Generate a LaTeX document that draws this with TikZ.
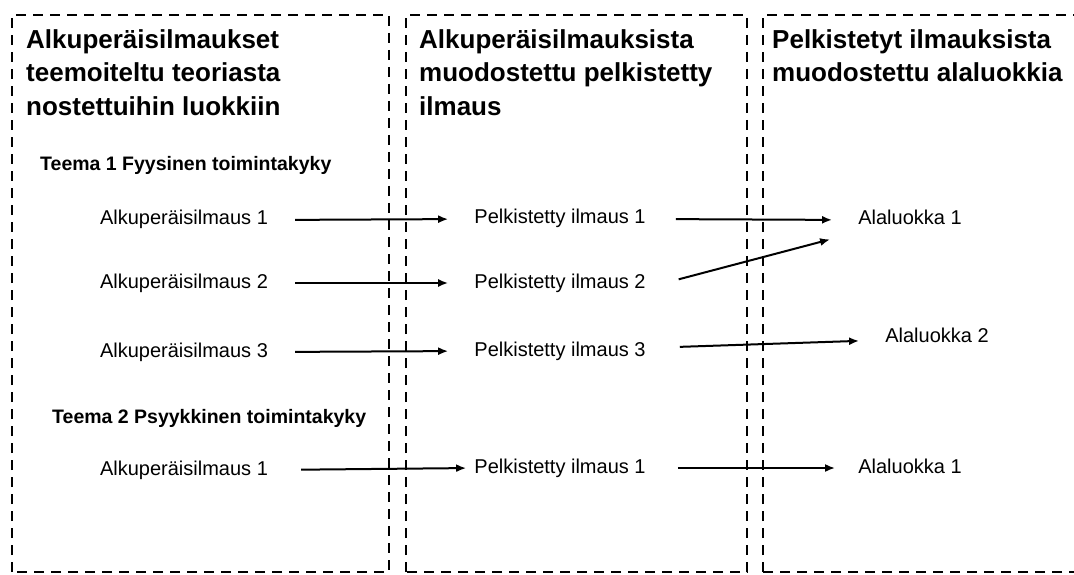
\documentclass[tikz,border=0pt]{standalone}
\usepackage{fontspec}
\setmainfont{Liberation Sans}
\usetikzlibrary{arrows.meta}

\tikzset{
  column/.style={line width=2.1pt, dash pattern=on 10pt off 7pt},
  heading/.style={anchor=north west, inner sep=0pt, align=left, font=\bfseries\fontsize{26}{33.5}\selectfont},
  theme/.style={anchor=west, inner sep=0pt, font=\bfseries\fontsize{19.5}{23}\selectfont},
  item/.style={inner sep=0pt, text height=14.5pt, text depth=4.5pt, font=\fontsize{20}{24}\selectfont},
  link/.style={line width=2pt, -{Latex[length=10pt,width=8pt]}, shorten <=27pt, shorten >=26pt}
}

\begin{document}
\begin{tikzpicture}[x=1pt, y=1pt]

\useasboundingbox (0,0) rectangle (1074,574);

% Dashed columns
\draw[column] (12,2) rectangle (389,559);
\draw[column] (406,2) rectangle (747,559);
\draw[column] (763,2) rectangle (1095,559);

% Column headings
\node[heading] (h1) at (26,545) {Alkuperäisilmaukset\\teemoiteltu teoriasta\\nostettuihin luokkiin};
\node[heading] (h2) at (419,545) {Alkuperäisilmauksista\\muodostettu pelkistetty\\ilmaus};
\node[heading] (h3) at (772,545) {Pelkistetyt ilmauksista\\muodostettu alaluokkia};

% Themes
\node[theme] (t1) at (40,409) {Teema 1 Fyysinen toimintakyky};
\node[theme] (t2) at (52,156) {Teema 2 Psyykkinen toimintakyky};

% Original expressions
\node[item] (a1) at (184,354) {Alkuperäisilmaus 1};
\node[item] (a2) at (184,291) {Alkuperäisilmaus 2};
\node[item] (a3) at (184,222) {Alkuperäisilmaus 3};
\node[item] (a4) at (184,104) {Alkuperäisilmaus 1};

% Reduced expressions
\node[item] (p1) at (560,355) {Pelkistetty ilmaus 1};
\node[item] (p2) at (560,291) {Pelkistetty ilmaus 2};
\node[item] (p3) at (560,223) {Pelkistetty ilmaus 3};
\node[item] (p4) at (560,106) {Pelkistetty ilmaus 1};

% Subcategories
\node[item] (l1) at (910,354) {Alaluokka 1};
\node[item] (l2) at (937,237) {Alaluokka 2};
\node[item] (l3) at (910,106) {Alaluokka 1};

% Arrows
\draw[link] (a1.east) -- (p1.west);
\draw[link] (a2.east) -- (p2.west);
\draw[link] (a3.east) -- (p3.west);
\draw[link, shorten <=33pt, shorten >=8pt] (a4.east) -- (p4.west);

\draw[link, shorten <=30pt] (p1.east) -- (l1.west);
\draw[link, shorten <=34pt, shorten >=29pt] ([yshift=-5pt]p2.east) -- ([yshift=-12pt]l1.west);
\draw[link, shorten <=34pt] ([yshift=3pt]p3.east) -- ([yshift=-3pt]l2.west);
\draw[link, shorten <=32pt, shorten >=23pt] (p4.east) -- (l3.west);

\end{tikzpicture}
\end{document}
